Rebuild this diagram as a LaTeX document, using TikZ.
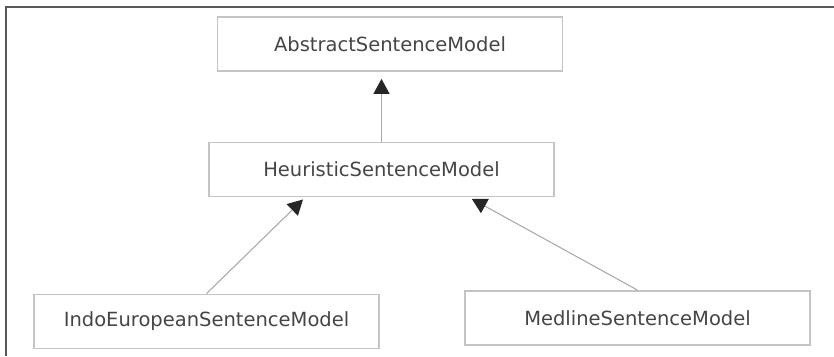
\documentclass[tikz,border=0pt]{standalone}
\usepackage{fontspec}
\setmainfont{DejaVu Sans}
\usetikzlibrary{arrows.meta}
\definecolor{boxgray}{HTML}{C4C4C4}
\definecolor{linegray}{HTML}{A8A8A8}
\definecolor{txtgray}{HTML}{454545}
\begin{document}
\begin{tikzpicture}[every node/.style={font=\fontsize{11.1pt}{13pt}\selectfont,text=txtgray},
  classbox/.style={draw=boxgray,line width=1pt,minimum width=6.9cm,minimum height=1.08cm,inner sep=0pt},
  inherits/.style={draw=linegray,line width=0.6pt,-{Triangle[length=0.3cm,width=0.32cm,color=black!85]}}]
\useasboundingbox (0,0) rectangle (16.68,7.12);
% frame
\draw[black!65,line width=1.2pt] (16.68,6.98) -- (0.12,6.98) -- (0.12,0);
% classes
\node[classbox] (abs) at (7.8,6.24) {AbstractSentenceModel};
\node[classbox] (heur) at (7.63,3.73) {HeuristicSentenceModel};
\node[classbox] (indo) at (4.13,0.69) {IndoEuropeanSentenceModel};
\node[classbox] (med) at (12.75,0.76) {MedlineSentenceModel};
% generalisation arrows
\draw[inherits,shorten >=0.14cm] (heur.north) -- (heur.north |- abs.south);
\draw[inherits,shorten >=0.06cm] (indo.north) -- ([xshift=1.94cm]heur.south west);
\draw[inherits,shorten >=0.06cm] (med.north) -- ([xshift=5.22cm]heur.south west);
\end{tikzpicture}
\end{document}
